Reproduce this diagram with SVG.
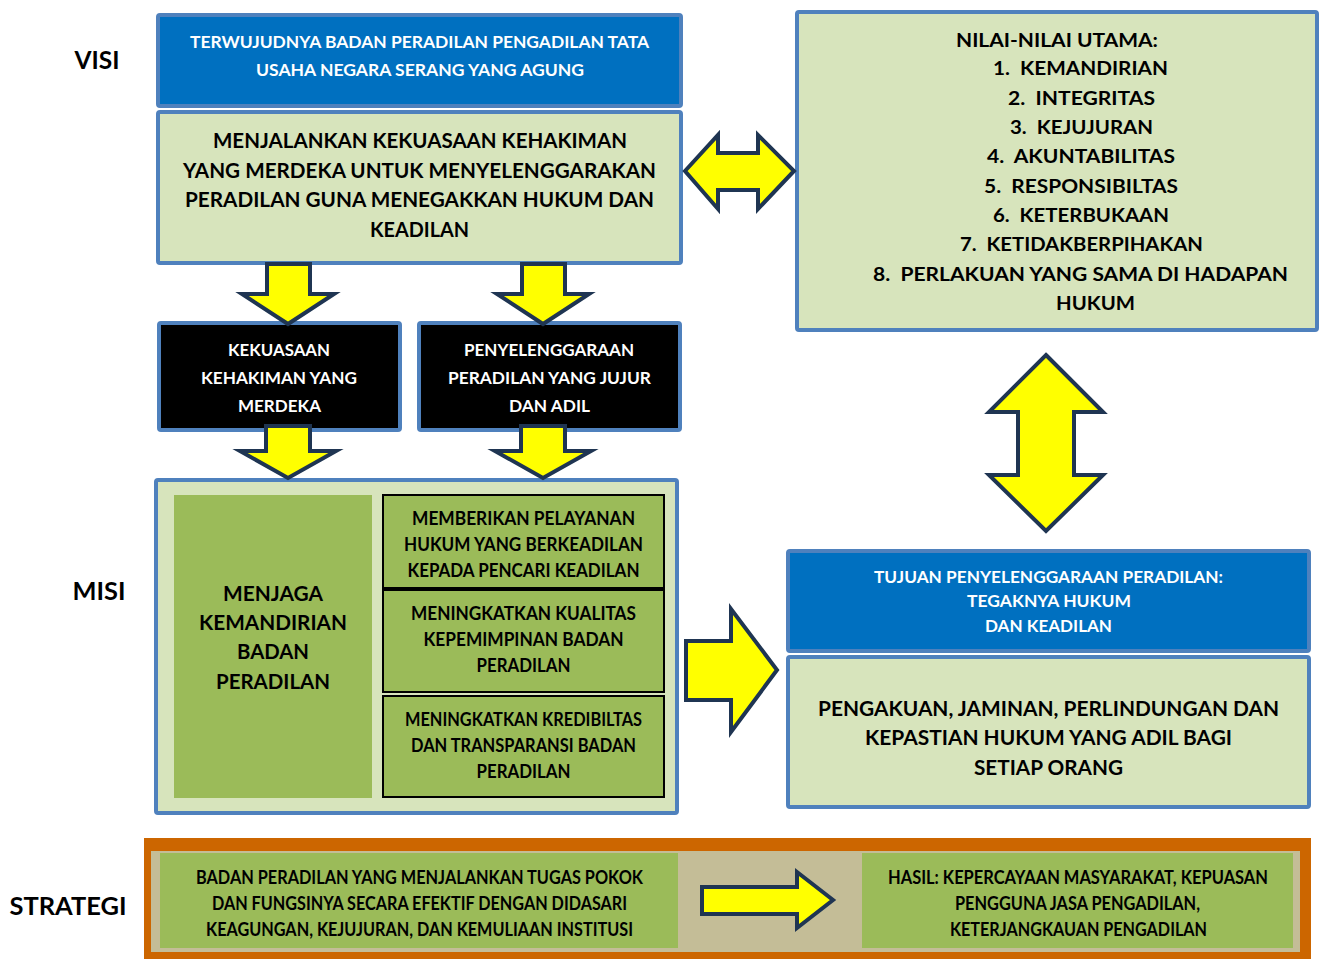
<svg xmlns="http://www.w3.org/2000/svg" width="1323" height="959" viewBox="0 0 1323 959">
<style>
text{font-family:Lato,"Open Sans","Liberation Sans",sans-serif;font-weight:bold;text-anchor:middle;white-space:pre}
.w{fill:#FFFFFF}
.k{fill:#000000}
.blue{fill:#0070C0;stroke:#4F81BD;stroke-width:4}
.lg{fill:#D7E4BC;stroke:#4F81BD;stroke-width:4}
.blk{fill:#000000;stroke:#4F81BD;stroke-width:4}
.gbox{fill:#9BBB59;stroke:#000000;stroke-width:2}
.arr{fill:#FFFF00;stroke:#1F3552;stroke-width:4;stroke-linejoin:miter}
.lab{font-size:24px;fill:#000000}
.hv{font-weight:900}
</style>
<rect width="1323" height="959" fill="#FFFFFF"/>

<g id="labels">
<text class="lab" x="97" y="69" textLength="45" lengthAdjust="spacingAndGlyphs">VISI</text>
<text class="lab" x="99" y="600" textLength="53" lengthAdjust="spacingAndGlyphs">MISI</text>
<text class="lab" x="68" y="915" textLength="117" lengthAdjust="spacingAndGlyphs">STRATEGI</text>
</g>

<g id="visi">
<rect class="blue" x="158" y="15" width="523" height="91" rx="2"/>
<g class="w" font-size="17">
<text x="419.5" y="48" textLength="459" lengthAdjust="spacingAndGlyphs">TERWUJUDNYA BADAN PERADILAN PENGADILAN TATA</text>
<text x="420" y="76" textLength="328" lengthAdjust="spacingAndGlyphs">USAHA NEGARA SERANG YANG AGUNG</text>
</g>
</g>

<g id="misi-utama">
<rect class="lg" x="158" y="112" width="523" height="151" rx="2"/>
<g class="k" font-size="20.5">
<text x="420" y="148" textLength="414" lengthAdjust="spacingAndGlyphs">MENJALANKAN KEKUASAAN KEHAKIMAN</text>
<text x="419.5" y="178" textLength="473" lengthAdjust="spacingAndGlyphs">YANG MERDEKA UNTUK MENYELENGGARAKAN</text>
<text x="419.5" y="207" textLength="469" lengthAdjust="spacingAndGlyphs">PERADILAN GUNA MENEGAKKAN HUKUM DAN</text>
<text x="419.5" y="237" textLength="99" lengthAdjust="spacingAndGlyphs">KEADILAN</text>
</g>
</g>

<g id="nilai">
<rect class="lg" x="797" y="12" width="520" height="318" rx="2"/>
<g class="k" font-size="19.5">
<text x="1057" y="47" textLength="202" lengthAdjust="spacingAndGlyphs">NILAI-NILAI UTAMA:</text>
<text x="1080.5" y="75" textLength="175" lengthAdjust="spacingAndGlyphs">1.  KEMANDIRIAN</text>
<text x="1081.5" y="105" textLength="147" lengthAdjust="spacingAndGlyphs">2.  INTEGRITAS</text>
<text x="1081.5" y="134" textLength="143" lengthAdjust="spacingAndGlyphs">3.  KEJUJURAN</text>
<text x="1081" y="163" textLength="188" lengthAdjust="spacingAndGlyphs">4.  AKUNTABILITAS</text>
<text x="1081" y="193" textLength="194" lengthAdjust="spacingAndGlyphs">5.  RESPONSIBILTAS</text>
<text x="1081" y="222" textLength="176" lengthAdjust="spacingAndGlyphs">6.  KETERBUKAAN</text>
<text x="1081.5" y="251" textLength="243" lengthAdjust="spacingAndGlyphs">7.  KETIDAKBERPIHAKAN</text>
<text x="1080.5" y="281" textLength="415" lengthAdjust="spacingAndGlyphs">8.  PERLAKUAN YANG SAMA DI HADAPAN</text>
<text x="1095.5" y="310" textLength="79" lengthAdjust="spacingAndGlyphs">HUKUM</text>
</g>
</g>

<g id="kekuasaan">
<rect class="blk" x="159" y="323" width="241" height="107" rx="2"/>
<g class="w" font-size="17">
<text x="279" y="356" textLength="102" lengthAdjust="spacingAndGlyphs">KEKUASAAN</text>
<text x="279" y="384" textLength="156" lengthAdjust="spacingAndGlyphs">KEHAKIMAN YANG</text>
<text x="279.5" y="412" textLength="83" lengthAdjust="spacingAndGlyphs">MERDEKA</text>
</g>
</g>

<g id="penyelenggaraan">
<rect class="blk" x="419" y="323" width="261" height="107" rx="2"/>
<g class="w" font-size="17">
<text x="549" y="356" textLength="170" lengthAdjust="spacingAndGlyphs">PENYELENGGARAAN</text>
<text x="549.5" y="384" textLength="203" lengthAdjust="spacingAndGlyphs">PERADILAN YANG JUJUR</text>
<text x="549.5" y="412" textLength="81" lengthAdjust="spacingAndGlyphs">DAN ADIL</text>
</g>
</g>

<g id="misi">
<rect class="lg" x="156" y="480" width="521" height="333" rx="2"/>
<rect x="174" y="495" width="198" height="303" fill="#9BBB59"/>
<g class="k" font-size="20.5">
<text x="273" y="601" textLength="100" lengthAdjust="spacingAndGlyphs">MENJAGA</text>
<text x="273" y="630" textLength="148" lengthAdjust="spacingAndGlyphs">KEMANDIRIAN</text>
<text x="273" y="659" textLength="72" lengthAdjust="spacingAndGlyphs">BADAN</text>
<text x="273" y="689" textLength="114" lengthAdjust="spacingAndGlyphs">PERADILAN</text>
</g>
</g>

<g id="misi-1">
<rect class="gbox" x="383" y="495" width="281" height="93"/>
<g class="k" font-size="18">
<text x="523.5" y="525" textLength="223" lengthAdjust="spacingAndGlyphs">MEMBERIKAN PELAYANAN</text>
<text x="523.5" y="551" textLength="239" lengthAdjust="spacingAndGlyphs">HUKUM YANG BERKEADILAN</text>
<text x="523.5" y="577" textLength="232" lengthAdjust="spacingAndGlyphs">KEPADA PENCARI KEADILAN</text>
</g>
</g>

<g id="misi-2">
<rect class="gbox" x="383" y="590" width="281" height="102"/>
<g class="k" font-size="18">
<text x="523.5" y="620" textLength="225" lengthAdjust="spacingAndGlyphs">MENINGKATKAN KUALITAS</text>
<text x="523.5" y="646" textLength="200" lengthAdjust="spacingAndGlyphs">KEPEMIMPINAN BADAN</text>
<text x="523.5" y="672" textLength="94" lengthAdjust="spacingAndGlyphs">PERADILAN</text>
</g>
</g>

<g id="misi-3">
<rect class="gbox" x="383" y="696" width="281" height="101"/>
<g class="k" font-size="18">
<text x="523.5" y="726" textLength="237" lengthAdjust="spacingAndGlyphs">MENINGKATKAN KREDIBILTAS</text>
<text x="523.5" y="752" textLength="225" lengthAdjust="spacingAndGlyphs">DAN TRANSPARANSI BADAN</text>
<text x="523.5" y="778" textLength="94" lengthAdjust="spacingAndGlyphs">PERADILAN</text>
</g>
</g>

<g id="tujuan">
<rect class="blue" x="788" y="551" width="521" height="100" rx="2"/>
<g class="w" font-size="17">
<text x="1048.5" y="583" textLength="349" lengthAdjust="spacingAndGlyphs">TUJUAN PENYELENGGARAAN PERADILAN:</text>
<text x="1049" y="607" textLength="164" lengthAdjust="spacingAndGlyphs">TEGAKNYA HUKUM</text>
<text x="1048.5" y="632" textLength="127" lengthAdjust="spacingAndGlyphs">DAN KEADILAN</text>
</g>
</g>

<g id="pengakuan">
<rect class="lg" x="788" y="657" width="521" height="150" rx="2"/>
<g class="k" font-size="20.5">
<text x="1048.5" y="716" textLength="461" lengthAdjust="spacingAndGlyphs">PENGAKUAN, JAMINAN, PERLINDUNGAN DAN</text>
<text x="1048.5" y="745" textLength="367" lengthAdjust="spacingAndGlyphs">KEPASTIAN HUKUM YANG ADIL BAGI</text>
<text x="1048.5" y="775" textLength="149" lengthAdjust="spacingAndGlyphs">SETIAP ORANG</text>
</g>
</g>

<g id="strategi">
<rect x="144" y="838" width="1167" height="121" fill="#CC6600"/>
<rect x="151" y="851" width="1149" height="101" fill="#C4BD97"/>
<rect x="160" y="853" width="518" height="95" fill="#9BBB59"/>
<g class="k" font-size="18">
<text x="419.5" y="884" textLength="447" lengthAdjust="spacingAndGlyphs">BADAN PERADILAN YANG MENJALANKAN TUGAS POKOK</text>
<text x="419.5" y="910" textLength="415" lengthAdjust="spacingAndGlyphs">DAN FUNGSINYA SECARA EFEKTIF DENGAN DIDASARI</text>
<text x="419.5" y="936" textLength="427" lengthAdjust="spacingAndGlyphs">KEAGUNGAN, KEJUJURAN, DAN KEMULIAAN INSTITUSI</text>
</g>
</g>

<g id="hasil">
<rect x="862" y="853" width="431" height="95" fill="#9BBB59"/>
<g class="k" font-size="18">
<text x="1078" y="884" textLength="380" lengthAdjust="spacingAndGlyphs">HASIL: KEPERCAYAAN MASYARAKAT, KEPUASAN</text>
<text x="1077.5" y="910" textLength="245" lengthAdjust="spacingAndGlyphs">PENGGUNA JASA PENGADILAN,</text>
<text x="1078.5" y="936" textLength="257" lengthAdjust="spacingAndGlyphs">KETERJANGKAUAN PENGADILAN</text>
</g>
</g>

<g id="connectors">
<polygon class="arr" points="685,171 718,135 718,153 758,153 758,135 794,171 758,209 758,190 718,190 718,209"/>
<polygon class="arr" points="267,264 310,264 310,294 334,294 288,324 242,294 267,294"/>
<polygon class="arr" points="522,264 565,264 565,294 589,294 543,324 497,294 522,294"/>
<polygon class="arr" points="266,426 310,426 310,451 336,451 288,478 240,451 266,451"/>
<polygon class="arr" points="521,426 565,426 565,451 591,451 543,478 495,451 521,451"/>
<polygon class="arr" points="686,641 731,641 731,609 777,670 731,732 731,700 686,700"/>
<polygon class="arr" points="1046,355 1103,412 1074,412 1074,475 1103,475 1046,531 989,475 1018,475 1018,412 989,412"/>
<polygon class="arr" points="702,887 797,887 797,872 833,900 797,928 797,914 702,914"/>
</g>
</svg>
